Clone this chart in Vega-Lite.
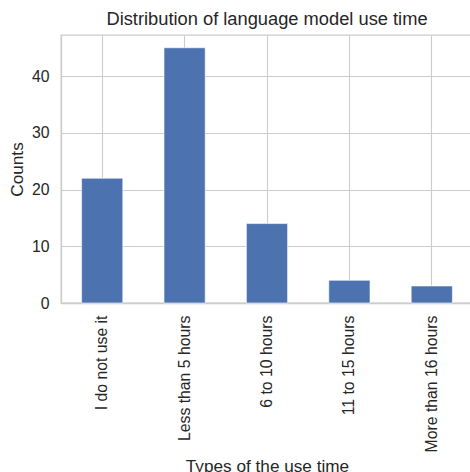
{
  "$schema": "https://vega.github.io/schema/vega-lite/v6.json",
  "autosize": {"type": "none"},
  "padding": {"left": 61, "top": 35, "right": 0, "bottom": 169},
  "width": 412,
  "height": 268,
  "background": "white",
  "title": {
    "text": "Distribution of language model use time",
    "font": "Liberation Sans",
    "fontSize": 18.3,
    "fontWeight": "normal",
    "color": "#262626",
    "offset": 6
  },
  "data": {
    "values": [
      {"type": "I do not use it", "count": 22},
      {"type": "Less than 5 hours", "count": 45},
      {"type": "6 to 10 hours", "count": 14},
      {"type": "11 to 15 hours", "count": 4},
      {"type": "More than 16 hours", "count": 3}
    ]
  },
  "mark": {"type": "bar", "color": "#4c72b0", "stroke": "#ffffff", "strokeWidth": 0.6},
  "encoding": {
    "x": {
      "field": "type",
      "type": "nominal",
      "sort": null,
      "scale": {"paddingInner": 0.5, "paddingOuter": 0.25},
      "axis": {
        "title": "Types of the use time",
        "labelAngle": -90,
        "labelAlign": "right",
        "labelBaseline": "middle",
        "labelPadding": 12,
        "tickSize": 0,
        "grid": true,
        "bandPosition": 0.5,
        "titlePadding": 6
      }
    },
    "y": {
      "field": "count",
      "type": "quantitative",
      "scale": {"domain": [0, 47.25], "nice": false},
      "axis": {
        "title": "Counts",
        "values": [0, 10, 20, 30, 40],
        "tickSize": 0,
        "labelPadding": 12,
        "titlePadding": 5,
        "grid": true
      }
    }
  },
  "config": {
    "view": {"stroke": "#cccccc", "strokeWidth": 1.3},
    "axis": {
      "labelFont": "Liberation Sans",
      "labelFontSize": 15.8,
      "labelColor": "#262626",
      "titleFont": "Liberation Sans",
      "titleFontSize": 17.2,
      "titleFontWeight": "normal",
      "titleColor": "#262626",
      "domainColor": "#cccccc",
      "domainWidth": 1.3,
      "gridColor": "#cccccc",
      "gridWidth": 1.1,
      "labelOverlap": false,
      "labelFlush": false
    }
  }
}
